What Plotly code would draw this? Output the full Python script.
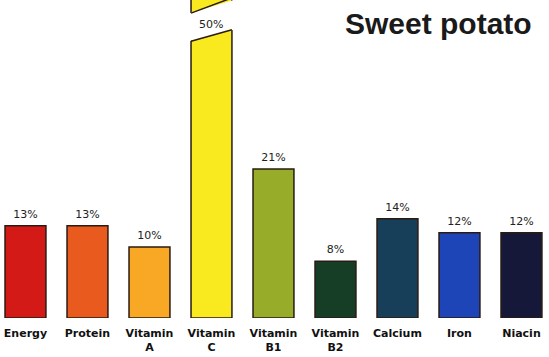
import plotly.graph_objects as go

categories = ["Energy", "Protein", "Vitamin<br>A", "Vitamin<br>C", "Vitamin<br>B1",
              "Vitamin<br>B2", "Calcium", "Iron", "Niacin"]
values = [13, 13, 10, 50, 21, 8, 14, 12, 12]
labels = ["13%", "13%", "10%", "50%", "21%", "8%", "14%", "12%", "12%"]
colors = ["#d41a17", "#e85a1e", "#f9a825", "#f9ea20", "#97ad2a",
          "#163d26", "#173f5a", "#1e45b8", "#16183a"]
title = "Sweet potato"

Y_MAX = 44.8
BAR_W = 0.66
xs = list(range(len(categories)))

fig = go.Figure()
fig.add_trace(go.Bar(
    x=xs, y=values, width=BAR_W,
    marker=dict(color=colors, line=dict(color="#2a1a12", width=1.5)),
    hoverinfo="skip",
))

# value labels for bars within range
in_x = [x for x, v in zip(xs, values) if v < Y_MAX]
in_v = [v for v in values if v < Y_MAX]
in_t = [t for t, v in zip(labels, values) if v < Y_MAX]
fig.add_trace(go.Scatter(
    x=in_x, y=[v + 1.5 for v in in_v], mode="text", text=in_t,
    textfont=dict(family="DejaVu Sans", size=11, color="#222"),
    hoverinfo="skip",
))

# broken bar (values beyond axis)
for x, v, t in zip(xs, values, labels):
    if v >= Y_MAX:
        x0, x1 = x - BAR_W / 2 - 0.03, x + BAR_W / 2 + 0.03
        lo_l, lo_r = 39.0, 40.6
        hi_l, hi_r = 42.95, 44.8
        fig.add_shape(type="path",
                      path=f"M {x0},{lo_l} L {x1},{lo_r} L {x1},{hi_r} L {x0},{hi_l} Z",
                      fillcolor="white", line=dict(width=0), layer="above")
        xa, xb = x - BAR_W / 2, x + BAR_W / 2
        fig.add_shape(type="line", x0=xa, y0=lo_l, x1=xb, y1=lo_r,
                      line=dict(color="#2a1a12", width=1.5), layer="above")
        fig.add_shape(type="line", x0=xa, y0=hi_l, x1=xb, y1=hi_r + 0.3,
                      line=dict(color="#2a1a12", width=1.5), layer="above")
        fig.add_annotation(x=x, y=41.4, text=t, showarrow=False,
                           font=dict(family="DejaVu Sans", size=11, color="#222"))

fig.add_annotation(xref="paper", yref="paper", x=0.972, y=0.925,
                   xanchor="right", yanchor="middle", text=f"<b>{title}</b>",
                   showarrow=False,
                   font=dict(family="Liberation Sans", size=30, color="#1a1a1a"))

fig.update_layout(
    width=549, height=357,
    margin=dict(l=0, r=0, t=0, b=39),
    paper_bgcolor="white", plot_bgcolor="white",
    showlegend=False,
    xaxis=dict(range=[-0.411, 8.444], tickmode="array", tickvals=xs,
               ticktext=[f"<b>{c}</b>" for c in categories],
               tickfont=dict(family="DejaVu Sans", size=11, color="#111"),
               ticklabelstandoff=7,
               showgrid=False, zeroline=False, showline=False, ticks=""),
    yaxis=dict(range=[0, Y_MAX], visible=False, showgrid=False, zeroline=False),
)

fig.write_html("out.html", config={"displayModeBar": False},
               post_script="document.body.style.margin='0';")
